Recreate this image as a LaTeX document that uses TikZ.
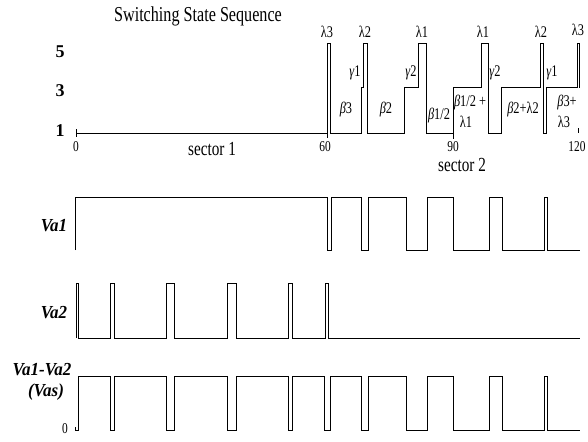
\documentclass[tikz,border=0pt]{standalone}
\usepackage{graphicx}
\usepackage{fontspec}
\setmainfont{Liberation Serif}
\newcommand{\tallbox}[1]{\scalebox{0.95}[1.25]{#1}}
\newcommand{\sigbox}[1]{\scalebox{1.0}[1.08]{#1}}
\begin{document}
\begin{tikzpicture}[x=1pt,y=-1pt,
  wave/.style={line width=1pt, line join=miter, line cap=butt},
  tick/.style={line width=1pt},
  lbl/.style={inner sep=0pt, font=\fontsize{13}{13}\selectfont},
  ax/.style={inner sep=0pt, font=\fontsize{12}{12}\selectfont},
  lev/.style={inner sep=0pt, font=\fontsize{18}{18}\selectfont\bfseries},
  sig/.style={inner sep=0pt, font=\fontsize{17}{17}\selectfont\bfseries\itshape}]
\useasboundingbox (0,0) rectangle (588,441);

% title and level labels
\node[inner sep=0pt, font=\fontsize{17}{17}\selectfont] (title) at (198,16) {\tallbox{Switching State Sequence}};
\node[lev] (l5) at (60,52) {5};
\node[lev] (l3) at (60,91) {3};
\node[lev] (l1) at (60,131) {1};

% top waveform
\draw[wave] (76,133) -- (327,133) -- (327,44) -- (330,44) -- (330,133) -- (361,133) -- (361,88) -- (363,88)
  -- (363,44) -- (367,44) -- (367,133) -- (404,133) -- (404,88) -- (418,88) -- (418,44) -- (426,44)
  -- (426,133) -- (453,133) -- (453,88) -- (481,88) -- (481,44) -- (488,44) -- (488,133) -- (501,133)
  -- (501,88) -- (540,88) -- (540,44) -- (543,44) -- (543,133) -- (546,133) -- (546,88) -- (577,88)
  -- (577,44) -- (579,44) -- (579,88);
\draw[tick] (76,129) -- (76,137);
\draw[tick] (327,133) -- (327,138);
\draw[tick] (453,133) -- (453,139);
\draw[tick] (578,128) -- (578,133);

% axis labels
\node[ax] (t0) at (76,147) {\tallbox{0}};
\node[ax] (t60) at (325,147) {\tallbox{60}};
\node[ax] (t90) at (453,147) {\tallbox{90}};
\node[ax] (t120) at (577,147) {\tallbox{120}};
\node[inner sep=0pt, font=\fontsize{16}{16}\selectfont] (s1) at (212,149) {\tallbox{sector 1}};
\node[inner sep=0pt, font=\fontsize{16}{16}\selectfont] (s2) at (462,165) {\tallbox{sector 2}};

% state labels
\node[lbl] (a1) at (327,32) {\tallbox{λ3}};
\node[lbl] (a2) at (365,32) {\tallbox{λ2}};
\node[lbl] (a3) at (422,32) {\tallbox{λ1}};
\node[lbl] (a4) at (483,32) {\tallbox{λ1}};
\node[lbl] (a5) at (541,32) {\tallbox{λ2}};
\node[lbl] (a6) at (578,30) {\tallbox{λ3}};
\node[lbl] (g1) at (355,73) {\tallbox{\textit{γ}1}};
\node[lbl] (g2) at (411,73) {\tallbox{\textit{γ}2}};
\node[lbl] (g3) at (495,73) {\tallbox{\textit{γ}2}};
\node[lbl] (g4) at (552,73) {\tallbox{\textit{γ}1}};
\node[lbl] (b3) at (346,110) {\tallbox{\textit{β}3}};
\node[lbl] (b2) at (386,110) {\tallbox{\textit{β}2}};
\node[lbl] (b12) at (439,116) {\tallbox{\textit{β}1/2}};
\node[lbl] (b12p) at (470,103) {\tallbox{\textit{β}1/2 +}};
\node[lbl] (b12l) at (466,122) {\tallbox{λ1}};
\node[lbl] (b2l) at (523,110) {\tallbox{\textit{β}2+λ2}};
\node[lbl] (b3p) at (567,103) {\tallbox{\textit{β}3+}};
\node[lbl] (b3l) at (564,122) {\tallbox{λ3}};

% Va1
\node[sig] (va1) at (54,226) {\sigbox{Va1}};
\draw[wave] (75,250) -- (75,197) -- (327,197) -- (327,250) -- (331,250) -- (331,197) -- (361,197) -- (361,250)
  -- (368,250) -- (368,197) -- (406,197) -- (406,250) -- (427,250) -- (427,197) -- (453,197) -- (453,250)
  -- (489,250) -- (489,197) -- (502,197) -- (502,250) -- (544,250) -- (544,197) -- (547,197) -- (547,250)
  -- (580,250);

% Va2
\node[sig] (va2) at (54,313) {\sigbox{Va2}};
\draw[wave] (76,338) -- (76,283) -- (78,283) -- (78,338) -- (110,338) -- (110,283) -- (114,283) -- (114,338)
  -- (166,338) -- (166,283) -- (174,283) -- (174,338) -- (227,338) -- (227,283) -- (236,283) -- (236,338)
  -- (288,338) -- (288,283) -- (292,283) -- (292,338) -- (325,338) -- (325,283) -- (328,283) -- (328,338)
  -- (580,338);

% Va1-Va2
\node[sig] (vd) at (42,370) {\sigbox{Va1-Va2}};
\node[sig] (vas) at (46,392) {\sigbox{(Vas)}};
\node[ax] (z0) at (65,429) {\tallbox{0}};
\draw[wave] (75,427) -- (75,430) -- (78,430) -- (78,376) -- (110,376) -- (110,430) -- (114,430) -- (114,376)
  -- (166,376) -- (166,430) -- (174,430) -- (174,376) -- (227,376) -- (227,430) -- (236,430) -- (236,376)
  -- (288,376) -- (288,430) -- (292,430) -- (292,376) -- (324,376) -- (324,430) -- (330,430) -- (330,376)
  -- (361,376) -- (361,430) -- (368,430) -- (368,376) -- (406,376) -- (406,430) -- (427,430) -- (427,376)
  -- (453,376) -- (453,430) -- (489,430) -- (489,376) -- (502,376) -- (502,430) -- (544,430) -- (544,376)
  -- (547,376) -- (547,430) -- (580,430);
\end{tikzpicture}
\end{document}
